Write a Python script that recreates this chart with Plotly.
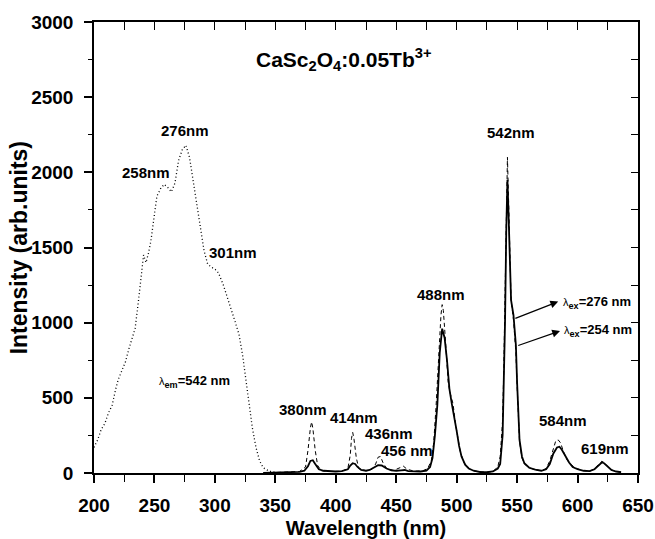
import plotly.graph_objects as go

# Excitation spectrum monitored at 542 nm (dotted)
ex_wl = [200, 203, 206, 209, 212, 215, 218, 220, 223, 226, 229, 231, 234, 237, 239, 241, 243,
         245, 247, 250, 252, 255, 258, 261, 264, 267, 270, 273, 276, 279, 282, 285, 288, 291,
         294, 297, 301, 303, 307, 310, 313, 317, 320, 323, 325, 328, 331, 334, 337, 340, 345, 350]
ex_int = [170, 220, 290, 330, 400, 450, 560, 620, 680, 740, 830, 880, 960, 1160, 1320, 1450, 1400,
          1460, 1540, 1700, 1840, 1890, 1920, 1900, 1870, 1930, 2080, 2150, 2180, 2100, 1950, 1780, 1650, 1480,
          1390, 1370, 1350, 1330, 1250, 1180, 1100, 1000, 920, 780, 650, 480, 300, 170, 80, 35, 12, 5]

# Emission spectrum, excitation 276 nm (dashed)
em276_wl = [340, 360, 370, 375, 377, 379, 380, 381, 383, 385, 388, 395, 405, 410, 412, 413, 414, 415,
            417, 419, 425, 430, 433, 435, 437, 439, 442, 448, 453, 456, 459, 465, 472, 476, 479, 481,
            483, 485, 487, 488, 489, 491, 493, 495, 497, 499, 501, 503, 506, 510, 515, 520, 525, 530,
            534, 536, 538, 539, 540, 541, 542, 543, 544, 545, 547, 549, 550, 551, 552, 554, 556, 560,
            565, 570, 574, 577, 580, 582, 584, 586, 588, 591, 594, 598, 603, 610, 614, 617, 620, 622,
            625, 628, 632, 636]
em276_int = [0, 5, 10, 40, 150, 300, 340, 300, 150, 50, 15, 10, 12, 30, 120, 230, 270, 230,
             100, 30, 15, 25, 60, 105, 110, 70, 30, 18, 35, 45, 25, 12, 15, 30, 80, 200,
             450, 800, 1050, 1120, 1080, 850, 600, 520, 460, 330, 220, 140, 70, 30, 12, 6, 5, 10,
             40, 110, 350, 700, 1200, 1750, 2100, 1800, 1400, 1150, 1020, 800, 580, 370, 210, 100, 60, 35,
             22, 15, 30, 80, 170, 215, 220, 200, 150, 90, 60, 35, 18, 12, 28, 55, 78, 70,
             42, 22, 10, 5]

# Emission spectrum, excitation 254 nm (solid)
em254_wl = [340, 350, 360, 370, 374, 377, 379, 381, 383, 386, 390, 395, 400, 405, 410, 412, 414, 416,
            418, 421, 425, 428, 432, 435, 438, 442, 446, 450, 454, 457, 460, 465, 470, 475, 478, 480,
            482, 484, 486, 488, 490, 492, 494, 496, 498, 500, 502, 504, 507, 510, 514, 520, 525, 530,
            534, 536, 538, 539, 540, 541, 542, 543, 544, 545, 547, 549, 550, 551, 552, 554, 556, 560,
            565, 570, 574, 577, 580, 583, 585, 587, 590, 593, 596, 600, 605, 610, 614, 617, 620, 622,
            625, 628, 632, 636]
em254_int = [0, 3, 5, 8, 15, 45, 80, 85, 60, 25, 15, 10, 10, 12, 25, 50, 65, 60,
             40, 20, 15, 20, 40, 52, 50, 30, 18, 15, 18, 20, 12, 10, 10, 15, 40, 100,
             250, 450, 800, 960, 900, 750, 560, 460, 380, 280, 180, 110, 55, 30, 15, 5, 5, 10,
             30, 60, 250, 550, 1000, 1600, 1950, 1700, 1350, 1150, 1050, 850, 600, 380, 220, 110, 65, 35,
             22, 15, 25, 60, 130, 170, 175, 155, 110, 70, 40, 25, 15, 12, 25, 50, 70, 65,
             40, 20, 10, 5]

# Peak labels: (text, x, y)
peak_labels = [
    ("258nm", 243, 2000),
    ("276nm", 275, 2280),
    ("301nm", 315, 1470),
    ("380nm", 373, 420),
    ("414nm", 415, 372),
    ("436nm", 444, 260),
    ("456 nm", 459, 150),
    ("488nm", 487, 1185),
    ("542nm", 545, 2262),
    ("584nm", 588, 348),
    ("619nm", 623, 160),
]

FAMILY = "Liberation Sans, Arial, sans-serif"
BOLD = dict(family=FAMILY, size=15, color="black", weight="bold")
LAMBDA = '<span style="font-size:11px;font-weight:normal">λ</span>'

fig = go.Figure()
fig.add_trace(go.Scatter(x=ex_wl, y=ex_int, mode="lines",
                         line=dict(color="black", width=1.3, dash="1px,2.5px"), hoverinfo="skip"))
fig.add_trace(go.Scatter(x=em276_wl, y=em276_int, mode="lines",
                         line=dict(color="black", width=1.0, dash="4px,3px"), hoverinfo="skip"))
fig.add_trace(go.Scatter(x=em254_wl, y=em254_int, mode="lines",
                         line=dict(color="black", width=1.8), hoverinfo="skip"))
# anchor trace for the mirrored top/right axes
fig.add_trace(go.Scatter(x=[200], y=[0], xaxis="x2", yaxis="y2", mode="markers",
                         marker=dict(opacity=0), hoverinfo="skip"))

annotations = []
for txt, x, y in peak_labels:
    annotations.append(dict(x=x, y=y, text=txt, showarrow=False, font=BOLD,
                            xanchor="center", yanchor="middle"))

annotations.append(dict(x=332, y=2750, text="CaSc<sub>2</sub>O<sub>4</sub>:0.05Tb<sup>3+</sup>",
                        showarrow=False, font=dict(BOLD, size=21), xanchor="left", yanchor="middle"))
annotations.append(dict(x=283, y=610, text=LAMBDA + "<sub>em</sub>=542 nm", showarrow=False,
                        font=dict(BOLD, size=13), xanchor="center", yanchor="middle"))

# Excitation-wavelength keys with arrows pointing from the curves
annotations.append(dict(x=584, y=1140, ax=547.3, ay=1025, axref="x", ayref="y", xref="x", yref="y",
                        text="", showarrow=True, arrowhead=2, arrowsize=1.3, arrowwidth=1.2,
                        arrowcolor="black", standoff=0))
annotations.append(dict(x=586, y=1135, text=LAMBDA + "<sub>ex</sub>=276 nm", showarrow=False,
                        font=dict(BOLD, size=13), xanchor="left", yanchor="middle"))
annotations.append(dict(x=585.5, y=945, ax=549.7, ay=845, axref="x", ayref="y", xref="x", yref="y",
                        text="", showarrow=True, arrowhead=2, arrowsize=1.3, arrowwidth=1.2,
                        arrowcolor="black", standoff=0))
annotations.append(dict(x=587.5, y=945, text=LAMBDA + "<sub>ex</sub>=254 nm", showarrow=False,
                        font=dict(BOLD, size=13), xanchor="left", yanchor="middle"))

# Vertical axis title, placed in the left margin
annotations.append(dict(xref="paper", yref="paper", x=-0.1381, y=0.5, text="Intensity (arb.units)",
                        textangle=-90, showarrow=False, xanchor="center", yanchor="middle",
                        font=dict(BOLD, size=23)))

tickfont = dict(family=FAMILY, size=19, color="black", weight="bold")

fig.update_layout(
    width=655, height=539,
    margin=dict(l=94, r=17, t=22, b=66),
    paper_bgcolor="white", plot_bgcolor="white",
    showlegend=False,
    annotations=annotations,
    xaxis=dict(range=[200, 650], dtick=50, tick0=200, ticks="outside", ticklen=8, tickwidth=1.5,
               tickcolor="black", showline=True, linewidth=1.5, linecolor="black", mirror=True,
               showgrid=False, zeroline=False, tickfont=tickfont, ticklabelstandoff=6,
               automargin=False,
               minor=dict(ticks="outside", dtick=25, ticklen=7, tickwidth=1, tickcolor="black"),
               title=dict(text="Wavelength (nm)", font=dict(family=FAMILY, size=20, color="black", weight="bold"),
                          standoff=10)),
    yaxis=dict(range=[0, 3000], dtick=500, ticks="outside", ticklen=8, tickwidth=1.5,
               tickcolor="black", showline=True, linewidth=1.5, linecolor="black", mirror=True,
               showgrid=False, zeroline=False, tickfont=tickfont, ticklabelstandoff=7,
               automargin=False,
               minor=dict(ticks="outside", dtick=250, ticklen=4, tickwidth=1, tickcolor="black")),
    xaxis2=dict(overlaying="x", side="top", anchor="y", range=[200, 650], dtick=25, tick0=200,
                ticks="inside", ticklen=8, tickwidth=1, tickcolor="black",
                showticklabels=False, showgrid=False, zeroline=False, showline=False),
    yaxis2=dict(overlaying="y", side="right", anchor="x", range=[0, 3000], dtick=250,
                ticks="inside", ticklen=7, tickwidth=1, tickcolor="black",
                showticklabels=False, showgrid=False, zeroline=False, showline=False),
)

fig.write_html("out.html")
